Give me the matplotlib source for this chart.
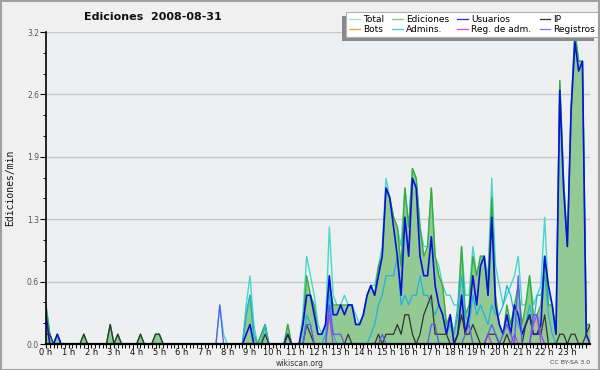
import numpy as np
import matplotlib
matplotlib.use("Agg")
import matplotlib.pyplot as plt
from matplotlib.lines import Line2D
from matplotlib.patches import Rectangle

# ---- data: edits per minute in 10-minute bins, stored in tenths ----
HOUR_LABELS = [f"{h} h" for h in range(24)]
Y_TICK_LABELS = ["0.0", "0.6", "1.3", "1.9", "2.6", "3.2"]

total_x10 = [
    4, 1, 0, 1, 0, 0,   0, 0, 0, 0, 1, 0,   0, 0, 0, 0, 0, 2,   0, 1, 0, 0, 0, 0,
    0, 1, 0, 0, 0, 1,   1, 0, 0, 0, 0, 0,   0, 0, 0, 0, 0, 0,   0, 0, 0, 0, 4, 1,
    0, 0, 0, 0, 0, 4,   7, 2, 0, 1, 2, 0,   0, 0, 0, 0, 2, 0,   0, 0, 3, 9, 7, 5,
    2, 1, 2, 12, 5, 4,  4, 5, 4, 4, 3, 2,   3, 5, 6, 6, 8, 10,  17, 15, 13, 12, 10, 16,
    12, 18, 17, 12, 10, 10,  16, 9, 8, 6, 5, 5,  4, 4, 10, 5, 5, 10,  7, 9, 9, 7, 17, 8,
    6, 4, 5, 6, 7, 9,   4, 4, 7, 4, 5, 6,   13, 5, 4, 1, 27, 17,  10, 24, 32, 29, 29, 2,
    2]
ediciones_x10 = [
    4, 1, 0, 1, 0, 0,   0, 0, 0, 0, 1, 0,   0, 0, 0, 0, 0, 2,   0, 1, 0, 0, 0, 0,
    0, 1, 0, 0, 0, 1,   1, 0, 0, 0, 0, 0,   0, 0, 0, 0, 0, 0,   0, 0, 0, 0, 0, 0,
    0, 0, 0, 0, 0, 3,   5, 1, 0, 1, 2, 0,   0, 0, 0, 0, 2, 0,   0, 0, 2, 7, 5, 4,
    1, 1, 2, 6, 4, 4,   4, 4, 4, 4, 2, 2,   3, 5, 6, 5, 8, 9,   16, 15, 13, 12, 8, 16,
    12, 18, 17, 12, 9, 10,  16, 9, 7, 6, 2, 3,  1, 3, 10, 3, 4, 9,  7, 9, 9, 6, 15, 5,
    2, 1, 4, 2, 4, 6,   2, 4, 7, 3, 3, 4,   9, 4, 4, 1, 27, 17,  10, 24, 32, 29, 29, 2,
    2]
usuarios_x10 = [
    3, 0, 0, 1, 0, 0,   0, 0, 0, 0, 0, 0,   0, 0, 0, 0, 0, 0,   0, 0, 0, 0, 0, 0,
    0, 0, 0, 0, 0, 0,   0, 0, 0, 0, 0, 0,   0, 0, 0, 0, 0, 0,   0, 0, 0, 0, 0, 0,
    0, 0, 0, 0, 0, 1,   2, 0, 0, 0, 0, 0,   0, 0, 0, 0, 1, 0,   0, 0, 2, 5, 5, 3,
    1, 1, 2, 7, 3, 3,   4, 3, 4, 4, 2, 2,   3, 5, 6, 5, 7, 9,   16, 15, 12, 9, 5, 13,
    9, 17, 16, 9, 7, 7,  11, 6, 4, 3, 1, 3,  0, 1, 5, 1, 3, 7,  4, 8, 9, 5, 13, 4,
    2, 1, 3, 1, 4, 3,   1, 2, 3, 1, 1, 2,   9, 6, 4, 1, 26, 16,  10, 24, 31, 28, 29, 1,
    0]
ip_x10 = [
    1, 1, 0, 0, 0, 0,   0, 0, 0, 0, 1, 0,   0, 0, 0, 0, 0, 2,   0, 1, 0, 0, 0, 0,
    0, 1, 0, 0, 0, 1,   1, 0, 0, 0, 0, 0,   0, 0, 0, 0, 0, 0,   0, 0, 0, 0, 0, 0,
    0, 0, 0, 0, 0, 0,   0, 0, 0, 0, 1, 0,   0, 0, 0, 0, 1, 0,   0, 0, 0, 2, 1, 0,
    0, 0, 0, 0, 0, 0,   0, 0, 1, 0, 0, 0,   0, 0, 0, 0, 1, 0,   1, 1, 1, 2, 1, 3,
    3, 1, 0, 1, 3, 4,   5, 1, 1, 1, 1, 0,   0, 1, 3, 1, 1, 2,   1, 0, 0, 1, 1, 1,
    0, 0, 1, 0, 0, 0,   0, 2, 3, 1, 1, 1,   3, 0, 0, 0, 1, 1,   0, 1, 1, 0, 0, 1,
    2]
bots_x10 = [0] * 145
admins_x10 = [
    0, 0, 0, 0, 0, 0,   0, 0, 0, 0, 0, 0,   0, 0, 0, 0, 0, 0,   0, 0, 0, 0, 0, 0,
    0, 0, 0, 0, 0, 0,   0, 0, 0, 0, 0, 0,   0, 0, 0, 0, 0, 0,   0, 0, 0, 0, 0, 0,
    0, 0, 0, 0, 0, 3,   5, 1, 0, 0, 2, 0,   0, 0, 0, 0, 0, 0,   0, 0, 0, 3, 2, 0,
    0, 0, 1, 5, 1, 0,   0, 0, 0, 0, 0, 0,   0, 0, 1, 2, 4, 5,   7, 7, 7, 9, 4, 5,
    4, 5, 5, 7, 5, 5,   4, 3, 4, 3, 1, 2,   1, 4, 7, 3, 2, 5,   3, 4, 3, 2, 4, 3,
    3, 4, 6, 5, 3, 2,   1, 2, 4, 2, 5, 5,   7, 3, 1, 0, 0, 0,   0, 0, 0, 0, 0, 0,
    0]
reg_adm_x10 = [
    0] * 72 + [
    0, 0, 0, 3, 0, 0,   0, 0, 0, 0, 0, 0,   0, 0, 0, 0, 0, 0,   0, 0, 0, 0, 0, 0,
    0, 0, 0, 0, 0, 0,   0, 0, 0, 0, 0, 0,   0, 0, 0, 0, 0, 0,   0, 0, 0, 1, 0, 0,
    0, 0, 0, 0, 1, 0,   0, 0, 0, 2, 3, 0,   0, 0, 0, 0, 0, 0,   0, 0, 0, 0, 0, 0,
    0]
registros_x10 = [
    0, 0, 0, 0, 0, 0,   0, 0, 0, 0, 0, 0,   0, 0, 0, 0, 0, 0,   0, 0, 0, 0, 0, 0,
    0, 0, 0, 0, 0, 0,   0, 0, 0, 0, 0, 0,   0, 0, 0, 0, 0, 0,   0, 0, 0, 0, 4, 0,
    0, 0, 0, 0, 0, 0,   0, 0, 0, 0, 0, 0,   0, 0, 0, 0, 0, 0,   0, 0, 0, 2, 2, 0,
    0, 0, 0, 4, 1, 1,   1, 0, 0, 0, 0, 0,   0, 0, 0, 0, 0, 1,   0, 0, 0, 0, 0, 0,
    0, 0, 0, 0, 0, 0,   2, 2, 0, 0, 0, 0,   0, 0, 0, 1, 2, 0,   0, 0, 0, 1, 2, 1,
    0, 1, 2, 1, 0, 7,   0, 0, 0, 3, 3, 1,   0, 0, 0, 0, 0, 0,   0, 0, 0, 0, 0, 0,
    0]

def per_min(v):
    return np.asarray(v, dtype=float) / 10.0

hours = np.arange(len(total_x10)) / 6.0

# ---- figure ----
fig = plt.figure(figsize=(6.0, 3.7), dpi=100, facecolor="#f0f0f0")
ax = fig.add_axes([46 / 600, 1 - 344 / 370, 544 / 600, 312 / 370])
ax.set_facecolor("#edeff1")

grid_c = "#c9c9c9"
ymax = 3.2
yt = np.linspace(0, ymax, 6)
for yv in yt[1:]:
    ax.axhline(yv, color=grid_c, lw=1.0, zorder=0.5)

ax.fill_between(hours, 0, per_min(ediciones_x10), color="#93c993", lw=0, zorder=1)
ax.plot(hours, per_min(total_x10), color="#44d8cc", lw=1.0, zorder=2)
ax.plot(hours, per_min(ediciones_x10), color="#38ac38", lw=1.0, zorder=3)
ax.plot(hours, per_min(admins_x10), color="#1fb4e0", lw=0.9, zorder=4)
ax.plot(hours, per_min(usuarios_x10), color="#0a10dc", lw=1.2, zorder=5)
ax.plot(hours, per_min(ip_x10), color="#333333", lw=0.9, zorder=6)
ax.plot(hours, per_min(bots_x10), color="#f0a030", lw=0.9, zorder=6)
ax.plot(hours, per_min(reg_adm_x10), color="#cc33dd", lw=0.9, zorder=7)
ax.plot(hours, per_min(registros_x10), color="#5a5af2", lw=0.9, zorder=7)

ax.set_xlim(0, 24)
ax.set_ylim(0, ymax)

for s in ["top", "right"]:
    ax.spines[s].set_visible(False)
ax.spines["left"].set_linewidth(1.2)
ax.spines["bottom"].set_linewidth(1.6)
ax.spines["bottom"].set_zorder(10)
ax.spines["left"].set_zorder(10)

ax.set_xticks(np.arange(24))
ax.set_xticklabels(HOUR_LABELS)
ax.set_xticks(np.arange(0, 24, 1 / 6), minor=True)
ax.set_yticks(yt)
ax.set_yticklabels(Y_TICK_LABELS)
ax.set_yticks(np.linspace(0, ymax, 16), minor=True)
ax.tick_params(axis="x", which="major", direction="out", length=3, width=0.8,
               labelsize=6, pad=0, colors="#111111")
ax.tick_params(axis="x", which="minor", direction="out", length=3, width=0.7)
ax.tick_params(axis="y", which="major", direction="out", length=4, width=0.8,
               labelsize=5.5, pad=1, labelcolor="#555555")
ax.tick_params(axis="y", which="minor", direction="out", length=2.5, width=0.7)

fig.text(10 / 600, 1 - 188 / 370, "Ediciones/min", rotation=90, ha="center",
         va="center", fontsize=7, family="DejaVu Sans Mono", color="#111111")
fig.text(153 / 600, 1 - 17 / 370, "Ediciones  2008-08-31", ha="center",
         va="center", fontsize=8, fontweight="bold", color="#111111")
fig.text(300 / 600, 1 - 363.5 / 370, "wikiscan.org", ha="center", va="center",
         fontsize=5.5, color="#333333")
fig.text(590 / 600, 1 - 363 / 370, "CC BY-SA 3.0", ha="right", va="center",
         fontsize=4.5, color="#444444")

# legend (column-major filling -> two rows)
leg_items = [
    ("Total", "#9fe0da"), ("Bots", "#f0a040"),
    ("Ediciones", "#7fcc7f"), ("Admins.", "#4cc6e6"),
    ("Usuarios", "#2a2ae0"), ("Reg. de adm.", "#d050e0"),
    ("IP", "#303030"), ("Registros", "#7878f0"),
]
handles = [Line2D([], [], color=c, lw=0.9) for _, c in leg_items]
labels = [t for t, _ in leg_items]
leg = fig.legend(handles, labels, ncol=4, loc="upper right",
                 bbox_to_anchor=(598 / 600, 1 - 12 / 370), borderaxespad=0,
                 fontsize=6.5, handlelength=1.2, handletextpad=0.35,
                 columnspacing=0.9, labelspacing=0.12, borderpad=0.3,
                 frameon=True, fancybox=False, framealpha=1)
leg.get_frame().set_facecolor("white")
leg.get_frame().set_edgecolor("#b0b0b0")
leg.get_frame().set_linewidth(0.8)
leg.set_zorder(20)

fig.canvas.draw()
bb = leg.get_window_extent().transformed(fig.transFigure.inverted())
shadow = Rectangle((bb.x0 - 4 / 600, bb.y0 - 4 / 370), bb.width, bb.height,
                   transform=fig.transFigure, facecolor="#8a8a8a", edgecolor="none",
                   zorder=19)
fig.patches.append(shadow)

fig.patches.append(Rectangle((0.001, 0.001), 0.998, 0.997, transform=fig.transFigure,
                             fill=False, edgecolor="#a0a0a0", lw=1.5, zorder=30))

fig.savefig("out.png", dpi=100, facecolor=fig.get_facecolor())
